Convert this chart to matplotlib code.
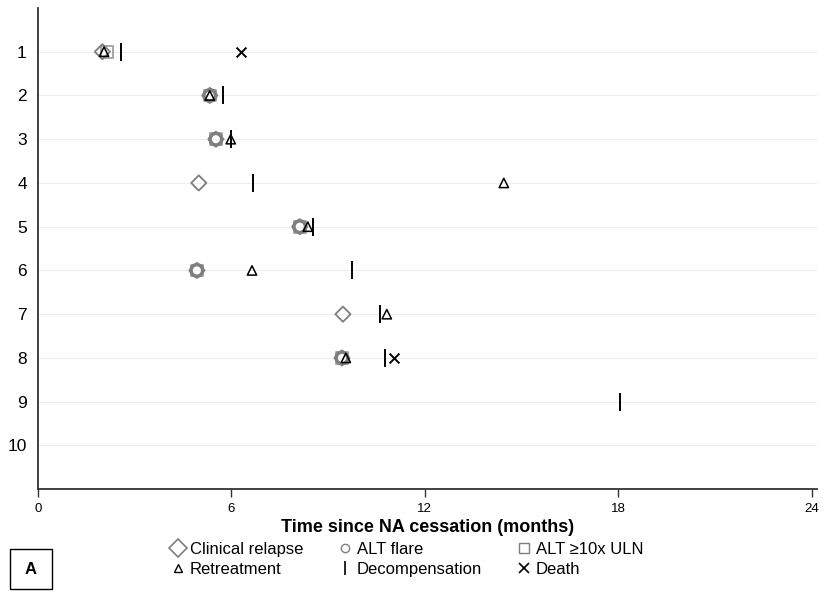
import matplotlib
matplotlib.use("Agg")
import matplotlib.pyplot as plt
from matplotlib.patches import Rectangle
from matplotlib.lines import Line2D

plt.rcParams['font.family'] = ['Liberation Sans', 'DejaVu Sans']

# event times (months) per patient
relapse_pt = [1, 2, 3, 4, 5, 6, 7, 8]
relapse_t = [2.0, 5.33, 5.52, 4.99, 8.12, 4.93, 9.46, 9.43]

flare_pt = [2, 3, 5, 6, 8]
flare_t = [5.33, 5.52, 8.12, 4.93, 9.43]

alt10_pt = [1, 2, 3, 5, 6, 8]
alt10_t = [2.15, 5.33, 5.52, 8.12, 4.93, 9.43]

retreat_pt = [1, 2, 3, 4, 5, 6, 7, 8]
retreat_t = [2.05, 5.33, 5.98, 14.45, 8.37, 6.64, 10.82, 9.55]

decomp_pt = [1, 2, 3, 4, 5, 6, 7, 8, 9]
decomp_t = [2.57, 5.74, 5.98, 6.67, 8.53, 9.74, 10.6, 10.76, 18.05]

death_pt = [1, 8]
death_t = [6.3, 11.04]

patients = list(range(1, 11))
x_ticks = [0, 6, 12, 18, 24]

gray = '#7f7f7f'
lgray = '#a0a0a0'

fig = plt.figure(figsize=(8.24, 6.13), dpi=100)
ax = fig.add_axes([0.046, 0.202, 0.945, 0.785])

for p in patients:
    ax.axhline(p, color='#eeeeee', lw=0.8, zorder=0)

ax.scatter(alt10_t, alt10_pt, marker='s', s=70, facecolors='none', edgecolors=lgray, linewidths=1.3, zorder=2)
ax.scatter(relapse_t, relapse_pt, marker='D', s=60, facecolors='none', edgecolors=gray, linewidths=1.3, zorder=3)
ax.scatter(flare_t, flare_pt, marker='o', s=70, facecolors='none', edgecolors=gray, linewidths=2.5, zorder=3)
ax.scatter(retreat_t, retreat_pt, marker='^', s=45, facecolors='none', edgecolors='black', linewidths=1.1, zorder=4)
ax.scatter(decomp_t, decomp_pt, marker='|', s=160, color='black', linewidths=1.4, zorder=4)
ax.scatter(death_t, death_pt, marker='x', s=50, color='black', linewidths=1.4, zorder=4)

ax.set_ylim(11, 0)
ax.set_xlim(0, 24.15)
ax.set_yticks(patients)
ax.set_yticklabels([str(p) for p in patients], fontsize=12.5)
ax.set_xticks(x_ticks)
ax.set_xticklabels([str(t) for t in x_ticks], fontsize=9.5)
ax.tick_params(axis='y', length=0, pad=8)
ax.tick_params(axis='x', length=6, width=1, color='#333333', pad=4)
for s in ['top', 'right']:
    ax.spines[s].set_visible(False)
for s in ['left', 'bottom']:
    ax.spines[s].set_color('#333333')
    ax.spines[s].set_linewidth(1.3)
ax.set_xlabel('Time since NA cessation (months)', fontsize=13, fontweight='bold', labelpad=3)

handles = [
    Line2D([], [], ls='', marker='D', ms=9, mfc='none', mec=gray, mew=1.2),
    Line2D([], [], ls='', marker='^', ms=6, mfc='none', mec='black', mew=1.0),
    Line2D([], [], ls='', marker='o', ms=6, mfc='none', mec=gray, mew=1.0),
    Line2D([], [], ls='', marker='|', ms=10, color='black', mew=1.2),
    Line2D([], [], ls='', marker='s', ms=7, mfc='none', mec=gray, mew=1.0),
    Line2D([], [], ls='', marker='x', ms=7, color='black', mew=1.2),
]
labels = ['Clinical relapse', 'Retreatment', 'ALT flare', 'Decompensation',
          'ALT \u226510x ULN', 'Death']
fig.legend(handles, labels, ncol=3, loc='upper left', bbox_to_anchor=(0.198, 0.129),
           frameon=False, fontsize=12, handlelength=0.8, handletextpad=0.3,
           columnspacing=2.12, labelspacing=0.3, borderpad=0)

fig.patches.append(Rectangle((10 / 824, 1 - 589 / 613), 42 / 824, 40 / 613,
                             transform=fig.transFigure, fill=False, ec='black', lw=1))
fig.text(31 / 824, 1 - 569 / 613, 'A', ha='center', va='center', fontsize=12, fontweight='bold')

fig.savefig('out.png', dpi=100)
